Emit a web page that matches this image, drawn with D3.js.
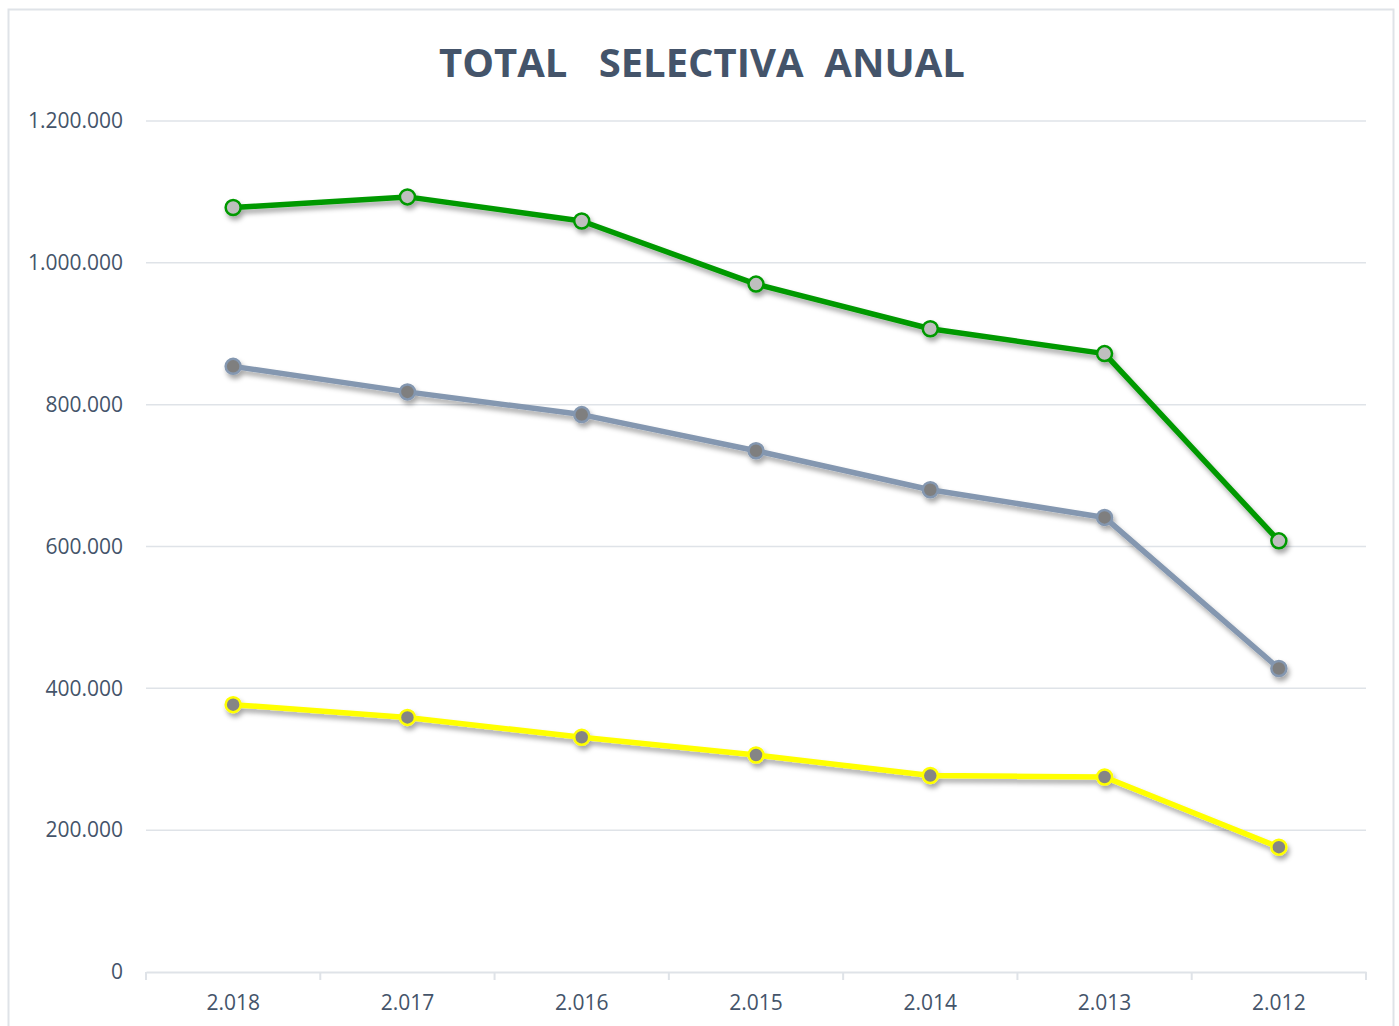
<!DOCTYPE html>
<html>
<head>
<meta charset="utf-8">
<script src="https://cdn.jsdelivr.net/npm/d3@7"></script>
<style>
	body { margin: 0; background: #fff; }
	svg { display: block; }
	text { font-family: "Open Sans", "Noto Sans", sans-serif; fill: #44546a; }
</style>
</head>
<body>
<svg id="chart" width="1399" height="1026"></svg>
<script>
// data
var years = ['2.018', '2.017', '2.016', '2.015', '2.014', '2.013', '2.012'];
var totalVals = [1078000, 1093000, 1059000, 970000, 907000, 872000, 608000];
var grayVals = [854000, 818000, 786000, 735000, 680000, 641000, 428000];
var yellowVals = [377000, 359000, 331000, 306000, 277000, 275000, 176000];
var yTicks = [0, 200000, 400000, 600000, 800000, 1000000, 1200000];

var series = [
	{ name: 'total', vals: totalVals, stroke: '#009900', fill: '#bfbfbf' },
	{ name: 'gray', vals: grayVals, stroke: '#8497b0', fill: '#7f7f7f' },
	{ name: 'yellow', vals: yellowVals, stroke: '#ffff00', fill: '#858585' }
];

var svg = d3.select('#chart');
var m = { left: 146, right: 1366, top: 121, bottom: 972 };

// frame
svg.append('rect')
	.attr('x', 8.5).attr('y', 9.5)
	.attr('width', 1385).attr('height', 1030)
	.attr('fill', 'none').attr('stroke', '#dfe3e8').attr('stroke-width', 2);

// shadow filter for lines and markers
var f = svg.append('defs').append('filter').attr('id', 'shadow')
	.attr('x', '-20%').attr('y', '-20%').attr('width', '140%').attr('height', '140%');
f.append('feDropShadow')
	.attr('dx', 2).attr('dy', 4).attr('stdDeviation', 2.5)
	.attr('flood-color', '#000').attr('flood-opacity', 0.35);

var x = d3.scaleBand().domain(years).range([m.left, m.right]);
var y = d3.scaleLinear().domain([0, 1200000]).range([m.bottom, m.top]);

var fmt = (v) => d3.format(',')(v).replace(/,/g, '.');

// gridlines
svg.append('g').selectAll('line').data(yTicks.slice(1)).enter().append('line')
	.attr('x1', m.left).attr('x2', m.right)
	.attr('y1', (d) => y(d)).attr('y2', (d) => y(d))
	.attr('stroke', '#dfe3e8').attr('stroke-width', 1.5);

// y axis labels
var yAxis = svg.append('g')
	.attr('transform', 'translate(' + (m.left - 23) + ',0)')
	.call(d3.axisLeft(y).tickValues(yTicks).tickFormat(fmt).tickSize(0).tickPadding(0));
yAxis.select('.domain').remove();
yAxis.selectAll('text')
	.attr('font-size', 21).attr('fill', '#44546a')
	.style('font-family', '"Open Sans", sans-serif');

// x axis
var xAxis = svg.append('g')
	.attr('transform', 'translate(0,' + m.bottom + ')')
	.call(d3.axisBottom(x).tickSize(0).tickPadding(23));
xAxis.select('.domain').attr('stroke', '#dfe3e8').attr('stroke-width', 2);
xAxis.selectAll('text')
	.attr('font-size', 21).attr('fill', '#44546a')
	.style('font-family', '"Open Sans", sans-serif');
// band boundary ticks
var bounds = years.map((d) => x(d)).concat([m.right]);
xAxis.selectAll('.bound').data(bounds).enter().append('line')
	.attr('class', 'bound')
	.attr('x1', (d) => d).attr('x2', (d) => d)
	.attr('y1', 0).attr('y2', 8)
	.attr('stroke', '#dfe3e8').attr('stroke-width', 2);

// title
svg.append('text')
	.attr('x', 702).attr('y', 77)
	.attr('text-anchor', 'middle')
	.attr('font-size', 40).attr('font-weight', 'bold')
	.style('white-space', 'pre')
	.attr('fill', '#44546a')
	.text('TOTAL   SELECTIVA  ANUAL');

var cx = (d, i) => x(years[i]) + x.bandwidth() / 2;
var line = d3.line().x(cx).y((d) => y(d));

var g = svg.selectAll('.series').data(series).enter().append('g')
	.attr('class', 'series')
	.attr('filter', 'url(#shadow)');

g.append('path')
	.attr('d', (s) => line(s.vals))
	.attr('fill', 'none')
	.attr('stroke', (s) => s.stroke)
	.attr('stroke-width', 5.5)
	.attr('stroke-linejoin', 'round');

g.each(function(s) {
	d3.select(this).selectAll('circle').data(s.vals).enter().append('circle')
		.attr('cx', cx)
		.attr('cy', (d) => y(d))
		.attr('r', 7.5)
		.attr('fill', s.fill)
		.attr('stroke', s.stroke)
		.attr('stroke-width', 2.5);
});
</script>
</body>
</html>
